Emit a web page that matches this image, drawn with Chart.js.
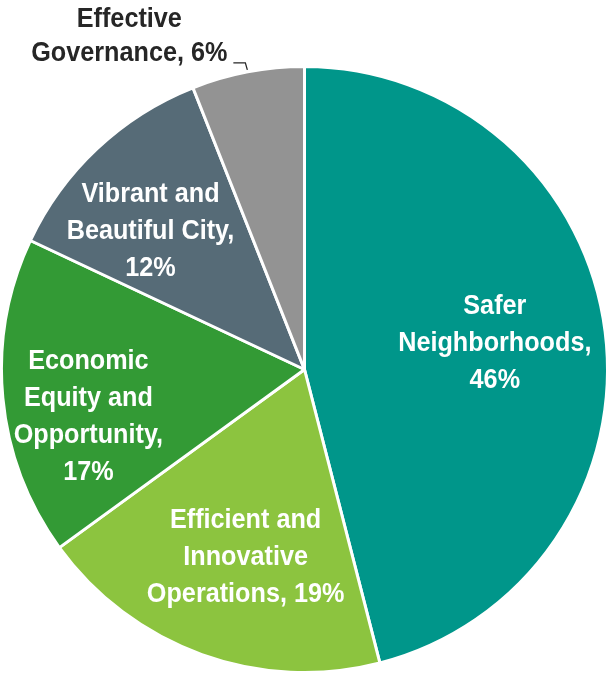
<!DOCTYPE html>
<html>
<head>
<meta charset="utf-8">
<script src="https://cdn.jsdelivr.net/npm/chart.js@4"></script>
<style>
  html, body { margin: 0; padding: 0; background: #fff; }
  #wrap { width: 615px; height: 676px; position: relative; }
</style>
</head>
<body>
<div id="wrap"><canvas id="pieChart"></canvas></div>
<script>
// chart data
const categories = ['Safer Neighborhoods', 'Efficient and Innovative Operations', 'Economic Equity and Opportunity', 'Vibrant and Beautiful City', 'Effective Governance'];
const shares = [46, 19, 17, 12, 6];
const sliceColors = ['#00968A', '#8CC43F', '#339A35', '#566B77', '#939393'];
// label text broken into lines as in the original
const labelLines = [
    ['Safer', 'Neighborhoods,', '46%'],
    ['Efficient and', 'Innovative', 'Operations, 19%'],
    ['Economic', 'Equity and', 'Opportunity,', '17%'],
    ['Vibrant and', 'Beautiful City,', '12%'],
    ['Effective', 'Governance, 6%']
];

const FONT = "bold 28px 'Liberation Sans', Arial, sans-serif";
const SQUEEZE = 0.9;   // the original uses a condensed face
const LINE_H = 37;

// label placement: fraction of radius and angle nudge (degrees) from slice middle
const labelPlace = [
    { r: 0.634, da: -0.6 },
    { r: 0.65, da: -2.4 },
    { r: 0.73, da: -6.9 },
    { r: 0.683, da: -4.9 },
    null
];

function squeezedText(ctx, text, x, y) {
    ctx.save();
    ctx.translate(x, y);
    ctx.scale(SQUEEZE, 1);
    ctx.fillText(text, 0, 0);
    ctx.restore();
}

const sliceLabels = {
    id: 'sliceLabels',
    afterDatasetsDraw(chart) {
        const ctx = chart.ctx;
        const arcs = chart.getDatasetMeta(0).data;
        ctx.save();
        ctx.font = FONT;
        ctx.textAlign = 'center';
        ctx.textBaseline = 'middle';
        arcs.forEach((arc, i) => {
            const p = arc.getProps(['x', 'y', 'startAngle', 'endAngle', 'outerRadius'], true);
            const mid = (p.startAngle + p.endAngle) / 2;
            const lines = labelLines[i];
            if (labelPlace[i]) {
                const a = mid + labelPlace[i].da * Math.PI / 180;
                const cx = p.x + Math.cos(a) * p.outerRadius * labelPlace[i].r;
                const cy = p.y + Math.sin(a) * p.outerRadius * labelPlace[i].r;
                ctx.fillStyle = '#ffffff';
                lines.forEach((t, k) => {
                    squeezedText(ctx, t, cx, cy + (k - (lines.length - 1) / 2) * LINE_H);
                });
            } else {
                // outside label with leader line
                const ex = p.x + Math.cos(mid) * (p.outerRadius + 2);
                const ey = p.y + Math.sin(mid) * (p.outerRadius + 2);
                const ly = ey - 7;
                ctx.strokeStyle = '#262626';
                ctx.lineWidth = 1.3;
                ctx.beginPath();
                ctx.moveTo(ex, ey);
                ctx.lineTo(ex - 2, ly);
                ctx.lineTo(ex - 14, ly);
                ctx.stroke();
                ctx.fillStyle = '#262626';
                const w0 = ctx.measureText(lines[1]).width * SQUEEZE;
                const rightX = ex - 20;
                const centerX = rightX - w0 / 2;
                squeezedText(ctx, lines[0], centerX, ly - 44);
                squeezedText(ctx, lines[1], centerX, ly - 10);
            }
        });
        ctx.restore();
    }
};

new Chart(document.getElementById('pieChart'), {
    type: 'pie',
    data: {
        labels: categories,
        datasets: [{
            data: shares,
            backgroundColor: sliceColors,
            borderColor: '#ffffff',
            borderWidth: 3
        }]
    },
    options: {
        responsive: true,
        maintainAspectRatio: false,
        animation: false,
        layout: { padding: { left: 0, right: 6, top: 65, bottom: 2 } },
        plugins: {
            legend: { display: false },
            tooltip: { enabled: false }
        }
    },
    plugins: [sliceLabels]
});
</script>
</body>
</html>
